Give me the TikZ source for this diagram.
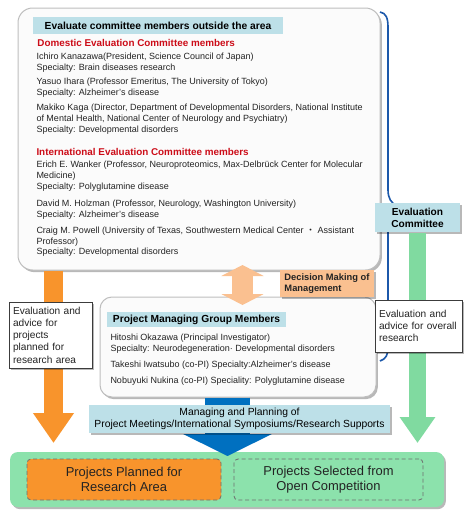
\documentclass[tikz,border=0pt]{standalone}
\usepackage{fontspec}
\setmainfont{Liberation Sans}
\newfontfamily\cjk{Noto Sans CJK JP}
\usetikzlibrary{arrows.meta,shadows}

\definecolor{hdrteal}{RGB}{189,224,232}
\definecolor{peach}{RGB}{250,192,144}
\definecolor{orangearr}{RGB}{248,148,44}
\definecolor{greenarr}{RGB}{128,218,160}
\definecolor{greenbox}{RGB}{140,226,172}
\definecolor{bracebl}{RGB}{28,88,170}
\definecolor{bluearr}{RGB}{0,112,192}
\definecolor{redtxt}{RGB}{204,12,24}
\definecolor{txt}{RGB}{35,35,35}

\tikzset{every picture/.style={line width=0.75pt}}
\tikzset{
  softshadow/.style={drop shadow={shadow xshift=1.4pt,shadow yshift=-1.6pt,opacity=0.28,fill=black}},
  panel/.style={draw={rgb,255:red,190;green,190;blue,190},fill={rgb,255:red,251;green,251;blue,251},inner sep=0pt,softshadow},
  tealhdr/.style={fill=hdrteal,inner sep=0pt,text=black,font=\bfseries\fontsize{7.7}{9}\selectfont},
  bodytxt/.style={anchor=west,inner sep=0pt,align=left,text=txt,font=\fontsize{6.75}{8.2}\selectfont},
  redhdr/.style={anchor=west,inner sep=0pt,text=redtxt,font=\bfseries\fontsize{7.4}{8.6}\selectfont},
  notebox/.style={draw={rgb,255:red,60;green,60;blue,60},fill=white,inner xsep=3pt,inner ysep=0pt,align=left,text=txt,font=\fontsize{7.6}{9.2}\selectfont,softshadow},
  subbox/.style={draw={rgb,255:red,110;green,110;blue,110},densely dashed,line width=0.6pt,inner sep=0pt,align=center,text=txt,font=\fontsize{9.7}{11.4}\selectfont},
}

\begin{document}
\begin{tikzpicture}[x=0.75pt,y=0.75pt,yscale=-1,xscale=1]
%background and size of the diagram
\path [fill=white,use as bounding box] (0,0) rectangle (474,518);

%Shape: Rounded Rect [id:bottom]
\draw (227,479.5) node (bottom) [fill=greenbox,inner sep=0pt,minimum width=325.5pt,minimum height=41.25pt,rounded corners=6pt,softshadow] {};
% Text Node
\draw (124,479.5) node (planned) [subbox,fill=orangearr,minimum width=145.5pt,minimum height=30.75pt,rounded corners=3pt] {Projects Planned for\\Research Area};
% Text Node
\draw (328.5,479.5) node (selected) [subbox,fill=greenbox,minimum width=141.75pt,minimum height=30.75pt,rounded corners=3pt] {Projects Selected from\\Open Competition};

%Shape: Rounded Rect [id:outside]
\draw (199,139) node (outside) [panel,minimum width=271.5pt,minimum height=196.5pt,rounded corners=11pt] {};
% Text Node
\draw (158,25.5) node (hdrout) [tealhdr,minimum width=187.5pt,minimum height=12.75pt] {Evaluate committee members outside the area};
% Text Node
\draw (37,43) node (domhead) [redhdr] {Domestic Evaluation Committee members};
% Text Node
\draw (36,62.5) node (kanazawa) [bodytxt] {Ichiro Kanazawa(President, Science Council of Japan)\\Specialty: Brain diseases research};
% Text Node
\draw (36,87.5) node (ihara) [bodytxt] {Yasuo Ihara (Professor Emeritus, The University of Tokyo)\\Specialty: Alzheimer’s disease};
% Text Node
\draw (36,119) node (kaga) [bodytxt] {Makiko Kaga (Director, Department of Developmental Disorders, National Institute\\of Mental Health, National Center of Neurology and Psychiatry)\\Specialty: Developmental disorders};
% Text Node
\draw (36,152) node (inthead) [redhdr] {International Evaluation Committee members};
% Text Node
\draw (36,176.5) node (wanker) [bodytxt] {Erich E. Wanker (Professor, Neuroproteomics, Max-Delbrück Center for Molecular\\Medicine)\\Specialty: Polyglutamine disease};
% Text Node
\draw (36,209.5) node (holzman) [bodytxt] {David M. Holzman (Professor, Neurology, Washington University)\\Specialty: Alzheimer’s disease};
% Text Node
\draw (36,241.7) node (powell) [bodytxt] {Craig M. Powell (University of Texas, Southwestern Medical Center {\cjk ・} Assistant\\Professor)\\Specialty: Developmental disorders};

%Shape: Rounded Rect [id:pmg]
\draw (238,347) node (pmg) [panel,minimum width=207pt,minimum height=75pt,rounded corners=9pt] {};
% Text Node
\draw (196.5,319.5) node (hdrpmg) [tealhdr,minimum width=134.25pt,minimum height=11.25pt] {Project Managing Group Members};
% Text Node
\draw (110,343.5) node (okazawa) [bodytxt] {Hitoshi Okazawa (Principal Investigator)\\Specialty: Neurodegeneration· Developmental disorders};
% Text Node
\draw (110,365) node (iwatsubo) [bodytxt] {Takeshi Iwatsubo (co-PI) Specialty:Alzheimer’s disease};
% Text Node
\draw (110,381) node (nukina) [bodytxt] {Nobuyuki Nukina (co-PI) Speciality: Polyglutamine disease};

%Curve Lines [id:brace]
\draw [color=bracebl,line width=1.2pt] (380,12) .. controls (386,13) and (388,18) .. (388,27) -- (388,190) .. controls (388,198) and (391,203) .. (397,206) .. controls (391,209) and (388,213) .. (388,222) -- (388,347) .. controls (388,355) and (386,359) .. (380,361) ;

% Text Node
\draw (417.5,217.5) node (evalcom) [tealhdr,align=center,font=\bfseries\fontsize{7.6}{9}\selectfont,minimum width=63.75pt,minimum height=21.75pt,softshadow] {Evaluation\\Committee};

%Block Arrows
\coordinate (orangetip) at (53.5,443);
\coordinate (greentip) at (417.5,443);
\coordinate (bluetip) at (227.5,456);
\draw [draw=orangearr,line width=14.25pt,-{Triangle[length=22.5pt,width=29.25pt]}] (outside.south -| orangetip) -- (orangetip) ;
\draw [draw=greenarr,line width=12.75pt,-{Triangle[length=19.5pt,width=25.5pt]}] (evalcom.south) -- (greentip) ;
\draw [draw=bluearr,line width=33.75pt,-{Triangle[length=16.5pt,width=66pt]}] (pmg.south -| bluetip) -- (bluetip) ;

% Text Node
\draw (50.5,335) node (advleft) [notebox,text width=56.25pt,minimum height=49.5pt] {Evaluation and\\advice for\\projects\\planned for\\research area};
% Text Node
\draw (418.5,326) node (advright) [notebox,text width=59.25pt,minimum height=39pt] {Evaluation and\\advice for overall\\research};
% Text Node
\draw (239.5,419) node (mgmt) [tealhdr,align=center,font=\fontsize{7.75}{9}\selectfont,minimum width=225.75pt,minimum height=21pt,softshadow] {Managing and Planning of\\Project Meetings/International Symposiums/Research Supports};

%Double Arrow
\coordinate (dmtop) at (242.5,265);
\coordinate (dmbot) at (242.5,305);
\draw [draw=peach,line width=15.75pt,{Triangle[length=8.25pt,width=31.5pt]}-{Triangle[length=8.25pt,width=31.5pt]}] (dmtop) -- (dmbot) ;
% Text Node
\draw (327,283.5) node (decision) [fill=peach,inner sep=0pt,align=left,text=txt,font=\bfseries\fontsize{7}{8.6}\selectfont,minimum width=70.5pt,minimum height=20.25pt,softshadow] {Decision Making of\\Management};

\end{tikzpicture}
\end{document}
